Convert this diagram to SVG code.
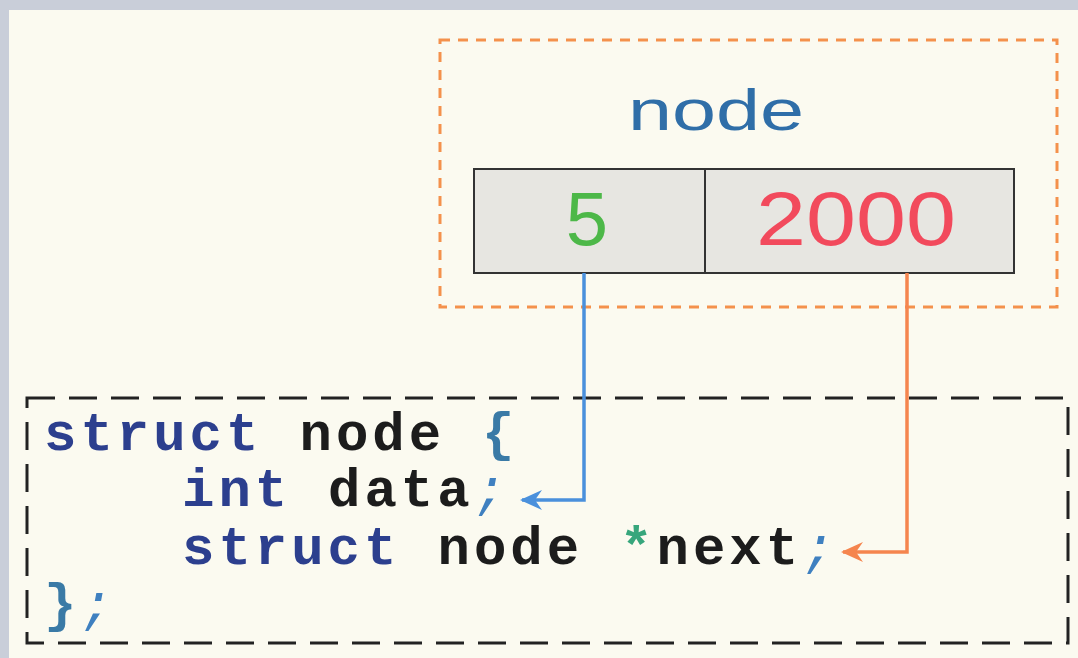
<svg xmlns="http://www.w3.org/2000/svg" width="1078" height="658" viewBox="0 0 1078 658">
  <style>
    .code { font-family: "Liberation Mono", "Courier New", monospace; font-size: 54px; font-weight: bold; letter-spacing: 4px; }
    .kw { fill: #2c3f8e; }
    .id { fill: #1c1c1c; }
    .br { fill: #3a7aa6; }
    .semi { fill: #3f80c0; font-weight: normal; font-style: italic; }
    .star { fill: #37a67c; }
    .val { font-family: "Liberation Sans", Arial, sans-serif; font-size: 76px; text-anchor: middle; }
  </style>
  <defs>
    <marker id="head-blue" viewBox="0 0 22 20" refX="20" refY="10" markerWidth="22" markerHeight="20" markerUnits="userSpaceOnUse" orient="auto">
      <path d="M22,10 L0,0 L7,10 L0,20 Z" fill="#4a90dc"/>
    </marker>
    <marker id="head-orange" viewBox="0 0 22 20" refX="20" refY="10" markerWidth="22" markerHeight="20" markerUnits="userSpaceOnUse" orient="auto">
      <path d="M22,10 L0,0 L7,10 L0,20 Z" fill="#f5854e"/>
    </marker>
  </defs>

  <!-- page frame -->
  <rect x="0" y="0" width="1078" height="658" fill="#c9ced9"/>
  <rect x="9" y="10" width="1069" height="648" fill="#fbfaf0"/>

  <!-- node with its two fields -->
  <g id="node">
    <rect x="440" y="40" width="617" height="267" fill="none" stroke="#f4914c" stroke-width="3" stroke-dasharray="10 8"/>
    <text x="716" y="130" font-family="Liberation Sans, Arial, sans-serif" font-size="58" fill="#2f6ea8" text-anchor="middle" textLength="176" lengthAdjust="spacingAndGlyphs">node</text>
  </g>
  <g id="field-data">
    <rect x="474" y="169" width="231" height="104" fill="#e7e6e1" stroke="#333" stroke-width="2"/>
    <text class="val" x="587" y="245" fill="#4db848">5</text>
  </g>
  <g id="field-next">
    <rect x="705" y="169" width="309" height="104" fill="#e7e6e1" stroke="#333" stroke-width="2"/>
    <text class="val" x="856" y="245" fill="#f24a5c" textLength="200" lengthAdjust="spacingAndGlyphs">2000</text>
  </g>

  <!-- struct declaration -->
  <g id="struct-decl">
    <rect x="27" y="398" width="1041" height="245" fill="none" stroke="#222" stroke-width="3" stroke-dasharray="28 14"/>
    <text class="code" x="44" y="450"><tspan class="kw">struct</tspan><tspan class="id" x="299.5">node</tspan><tspan class="br" x="482">{</tspan></text>
    <text class="code" x="182" y="506"><tspan class="kw">int</tspan><tspan class="id" x="328">data</tspan><tspan class="semi" x="474">;</tspan></text>
    <text class="code" x="182" y="564"><tspan class="kw">struct</tspan><tspan class="id" x="437.5">node</tspan><tspan class="star" x="620">*</tspan><tspan class="id" x="656.5">next</tspan><tspan class="semi" x="802.5">;</tspan></text>
    <text class="code" x="44" y="621"><tspan class="br">}</tspan><tspan class="semi" x="80.5">;</tspan></text>
  </g>

  <!-- connectors from fields to declaration lines -->
  <g id="connectors" fill="none" stroke-width="3.5">
    <path d="M584,273 V500 H522" stroke="#4a90dc" marker-end="url(#head-blue)"/>
    <path d="M907,273 V552 H843" stroke="#f5854e" marker-end="url(#head-orange)"/>
  </g>
</svg>
